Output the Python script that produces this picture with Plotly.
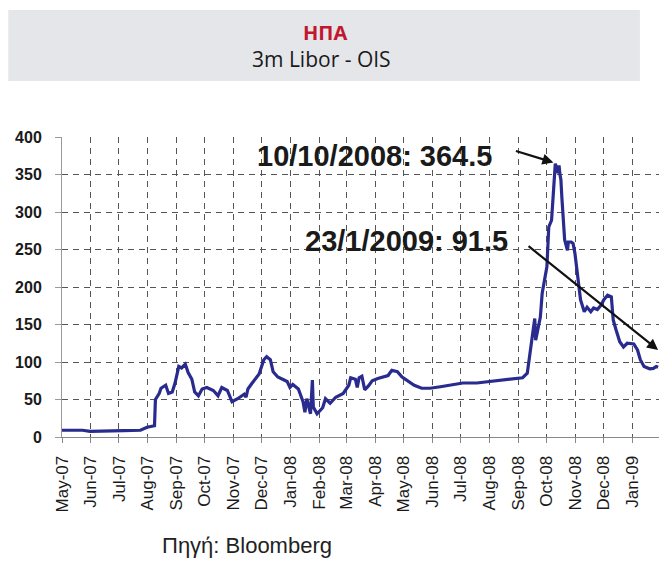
import plotly.graph_objects as go

# 3m Libor - OIS spread (bp)
dates = [
    "2007-05-01", "2007-05-23", "2007-05-31", "2007-06-21", "2007-07-06", "2007-07-24",
    "2007-07-31", "2007-08-08", "2007-08-09", "2007-08-13", "2007-08-15", "2007-08-20",
    "2007-08-23", "2007-08-27", "2007-08-30", "2007-09-03", "2007-09-06", "2007-09-10",
    "2007-09-13", "2007-09-17", "2007-09-20", "2007-09-24", "2007-09-28", "2007-10-03",
    "2007-10-10", "2007-10-15", "2007-10-19", "2007-10-25", "2007-10-30", "2007-11-05",
    "2007-11-12", "2007-11-14", "2007-11-16", "2007-11-20", "2007-11-26", "2007-11-28",
    "2007-12-03", "2007-12-06", "2007-12-10", "2007-12-13", "2007-12-18", "2007-12-24",
    "2007-12-28", "2007-12-31", "2008-01-03", "2008-01-09", "2008-01-14", "2008-01-16",
    "2008-01-18", "2008-01-22", "2008-01-24", "2008-01-25", "2008-01-29", "2008-02-04",
    "2008-02-07", "2008-02-12", "2008-02-18", "2008-02-26", "2008-03-03", "2008-03-05",
    "2008-03-10", "2008-03-12", "2008-03-14", "2008-03-17", "2008-03-20", "2008-03-24",
    "2008-03-28", "2008-04-03", "2008-04-09", "2008-04-14", "2008-04-18", "2008-04-24",
    "2008-04-29", "2008-05-05", "2008-05-12", "2008-05-20", "2008-05-29", "2008-06-09",
    "2008-06-19", "2008-07-03", "2008-07-18", "2008-08-01", "2008-08-15", "2008-08-29",
    "2008-09-05", "2008-09-10", "2008-09-12", "2008-09-16", "2008-09-18", "2008-09-19",
    "2008-09-22", "2008-09-24", "2008-09-26", "2008-09-29", "2008-10-01", "2008-10-02",
    "2008-10-03", "2008-10-06", "2008-10-08", "2008-10-10", "2008-10-13", "2008-10-14",
    "2008-10-15", "2008-10-16", "2008-10-17", "2008-10-20", "2008-10-23", "2008-10-24",
    "2008-10-27", "2008-10-29", "2008-10-31", "2008-11-03", "2008-11-06", "2008-11-10",
    "2008-11-13", "2008-11-17", "2008-11-20", "2008-11-24", "2008-11-28", "2008-12-01",
    "2008-12-05", "2008-12-09", "2008-12-11", "2008-12-14", "2008-12-18", "2008-12-22",
    "2008-12-26", "2009-01-02", "2009-01-06", "2009-01-09", "2009-01-13", "2009-01-19",
    "2009-01-23", "2009-01-26", "2009-01-28",
]
spread = [
    9, 9, 7.5, 7.5, 8.5, 9,
    13, 15, 50, 58, 65, 69,
    58, 60, 72, 94, 92, 97,
    86, 77, 60, 55, 64, 66,
    62, 55, 66, 62, 47, 51,
    57, 53, 64, 71, 82, 84,
    103, 107, 103, 87, 80, 76,
    74, 66, 70, 64, 47, 33,
    51, 31, 76, 40, 31, 39,
    51, 45, 53, 58, 69, 79,
    77, 66, 79, 81, 63, 68,
    75, 78, 80, 82, 89, 87,
    80, 75, 69, 65, 65, 67,
    69, 72, 72, 74, 76, 77,
    79, 85, 103, 138, 158, 129,
    147, 160, 192, 213, 227, 253,
    280, 289, 325, 364.5, 352, 362,
    350, 343, 320, 263, 249, 260,
    260, 258, 245, 213, 183, 167,
    173, 167, 172, 170, 176, 183,
    189, 187, 156, 143, 127, 120,
    125, 124, 116, 103, 94, 91,
    91.5, 94, 93,
]

y_ticks = [0, 50, 100, 150, 200, 250, 300, 350, 400]

fig = go.Figure()
fig.add_trace(go.Scatter(
    x=dates, y=spread, mode="lines",
    line=dict(color="#2a2b8e", width=3.2),
    showlegend=False,
))

# grey title band
fig.add_shape(type="rect", xref="paper", yref="paper",
              x0=-0.09, x1=0.968, y0=1.187, y1=1.423,
              fillcolor="#e5e6e9", line=dict(width=0), layer="below")


def note(text, x, y, font):
    fig.add_annotation(text=text, xref="paper", yref="paper", x=x, y=y,
                       xanchor="center", yanchor="middle", showarrow=False, font=font)


note("<b>ΗΠΑ</b>", 0.4405, 1.347, dict(family="Noto Sans", size=20, color="#c0182f"))
note("3m Libor - OIS", 0.4355, 1.26, dict(family="Open Sans", size=21, color="#1a1a1a"))
note("Πηγή: Bloomberg", 0.31, -0.363, dict(family="Liberation Sans", size=22, color="#222"))

# callouts
note("<b>10/10/2008: 364.5</b>", 0.524, 0.937, dict(family="Liberation Sans", size=29, color="#1a1a1a"))
note("<b>23/1/2009: 91.5</b>", 0.577, 0.653, dict(family="Liberation Sans", size=29, color="#1a1a1a"))
fig.add_annotation(text="", x="2008-10-08", y=366, showarrow=True,
                   ax=-39, ay=-12, arrowhead=2, arrowsize=1, arrowwidth=2.2, arrowcolor="#111")
fig.add_annotation(text="", x="2009-01-28", y=116, showarrow=True,
                   ax=-131, ay=-105, arrowhead=2, arrowsize=1, arrowwidth=2.2, arrowcolor="#111")

fig.update_xaxes(
    type="date", range=["2007-05-01", "2009-01-29"],
    tick0="2007-05-01", dtick="M1", tickformat="%b-%y", tickangle=-90,
    ticks="outside", ticklen=5, tickcolor="#888",
    showline=True, linecolor="#888", linewidth=1,
    showgrid=True, gridcolor="#555", gridwidth=1, griddash="6px,5px",
    tickfont=dict(family="Liberation Sans", size=17, color="#1a1a1a"),
    ticklabelstandoff=6,
)
fig.update_yaxes(
    range=[0, 400], tickvals=y_ticks,
    ticks="outside", ticklen=6, tickcolor="#999",
    showline=True, linecolor="#999", linewidth=1,
    showgrid=True, gridcolor="#555", gridwidth=1, griddash="6px,5px",
    zeroline=False,
    tickfont=dict(family="Liberation Sans", size=16, color="#1a1a1a", weight="bold"),
    ticklabelstandoff=10,
)
fig.update_layout(
    width=659, height=565,
    margin=dict(l=62, r=0, t=137, b=128),
    paper_bgcolor="white", plot_bgcolor="white",
)

fig.write_html("out.html", config={"displayModeBar": False},
               post_script="document.body.style.margin='0';")
